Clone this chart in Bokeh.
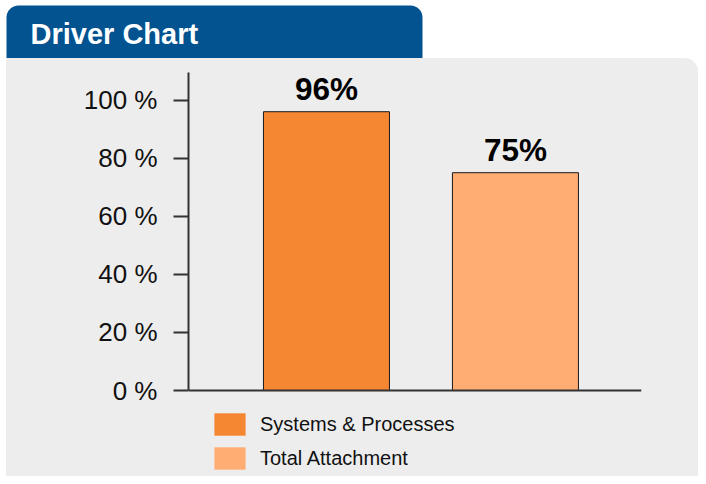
from bokeh.plotting import figure
from bokeh.models import (ColumnDataSource, Range1d, FixedTicker, LabelSet, Label,
                          BoxAnnotation, Legend, LegendItem, Span, Spacer)
from bokeh.layouts import column, row
from bokeh.core.properties import value
from bokeh.embed import file_html
from bokeh.resources import INLINE

# ---- data ----
title_text = "Driver Chart"
categories = ["Systems & Processes", "Total Attachment"]
values = [96, 75]
bar_labels = ["96%", "75%"]
bar_colors = ["#F58632", "#FFAD72"]
y_ticks = [0, 20, 40, 60, 80, 100]
y_tick_labels = ["0 %", "20 %", "40 %", "60 %", "80 %", "100 %"]

FONT = "Liberation Sans"
GRAY = "#EDEDED"
BLUE = "#035391"
W, H = 698, 476
HDR_H = 58
LEFT_GAP = 6

# ---- header tab ----
hdr = figure(width=W, height=HDR_H, x_range=Range1d(0, W), y_range=Range1d(0, HDR_H),
             min_border=0, output_backend="svg", toolbar_location=None,
             x_axis_type=None, y_axis_type=None)
hdr.background_fill_color = "white"
hdr.border_fill_color = "white"
hdr.outline_line_color = None
hdr.add_layout(BoxAnnotation(left=6, right=422, bottom=0, top=HDR_H - 5,
                             fill_color=BLUE, fill_alpha=1, line_color=None,
                             border_radius=(12, 12, 0, 0)))
hdr.add_layout(Label(x=30, y=HDR_H - 33.5, text=title_text, text_font=FONT,
                     text_font_size="29px", text_font_style="bold",
                     text_color="white", text_baseline="middle"))

# ---- main chart ----
positions = [i + 1 for i in range(len(categories))]
src = ColumnDataSource(dict(x=positions, top=values, label=bar_labels, color=bar_colors))

MW = W - LEFT_GAP
MH = H - HDR_H
p = figure(frame_width=453, frame_height=404,
           x_range=Range1d(0.27, 2.667), y_range=Range1d(-29.6, 109.5),
           min_border_left=188 - LEFT_GAP, min_border_right=MW - (641 - LEFT_GAP),
           min_border_top=72 - HDR_H, min_border_bottom=0,
           output_backend="svg", toolbar_location=None, x_axis_type=None,
           styles={"border-top-right-radius": "14px", "overflow": "hidden",
                   "background-color": GRAY})
p.background_fill_color = GRAY
p.border_fill_color = GRAY
p.outline_line_color = None
p.grid.visible = False

yax = p.yaxis[0]
yax.ticker = FixedTicker(ticks=y_ticks)
yax.major_label_overrides = {t: l for t, l in zip(y_ticks, y_tick_labels)}
yax.bounds = (0, 109.5)
yax.axis_line_color = "#333333"
yax.axis_line_width = 2
yax.major_tick_line_color = "#333333"
yax.major_tick_line_width = 2
yax.major_tick_out = 15
yax.major_tick_in = 0
yax.minor_tick_line_color = None
yax.major_label_text_font = FONT
yax.major_label_text_font_size = "26px"
yax.major_label_text_color = "#111111"
yax.major_label_standoff = 16

p.add_layout(Span(location=0, dimension="width", line_color="#333333", line_width=2))

r_fill = p.vbar(x="x", top="top", bottom=0, width=2/3, fill_color="color",
                line_color=None, source=src)
p.vbar(x="x", top="top", bottom=0, width=2/3, fill_color=None,
       line_color="#1a1a1a", line_width=1, source=src)

p.add_layout(LabelSet(x="x", y="top", text="label", source=src, text_align="center",
                      text_baseline="alphabetic", y_offset=12, text_font=value(FONT),
                      text_font_size="31.5px", text_font_style="bold", text_color="black"))

legend = Legend(items=[LegendItem(label=value(c), renderers=[r_fill], index=i)
                       for i, c in enumerate(categories)],
                location=(22, 1), orientation="vertical", border_line_color=None,
                background_fill_alpha=0, glyph_width=39, glyph_height=28, label_height=34,
                spacing=0, label_standoff=11, label_text_font=FONT,
                label_text_font_size="20px", label_text_color="#111111", padding=0, margin=0)
p.add_layout(legend)

layout = column(hdr, row(Spacer(width=LEFT_GAP, height=MH), p))

open("out.html", "w").write(file_html(layout, INLINE))
